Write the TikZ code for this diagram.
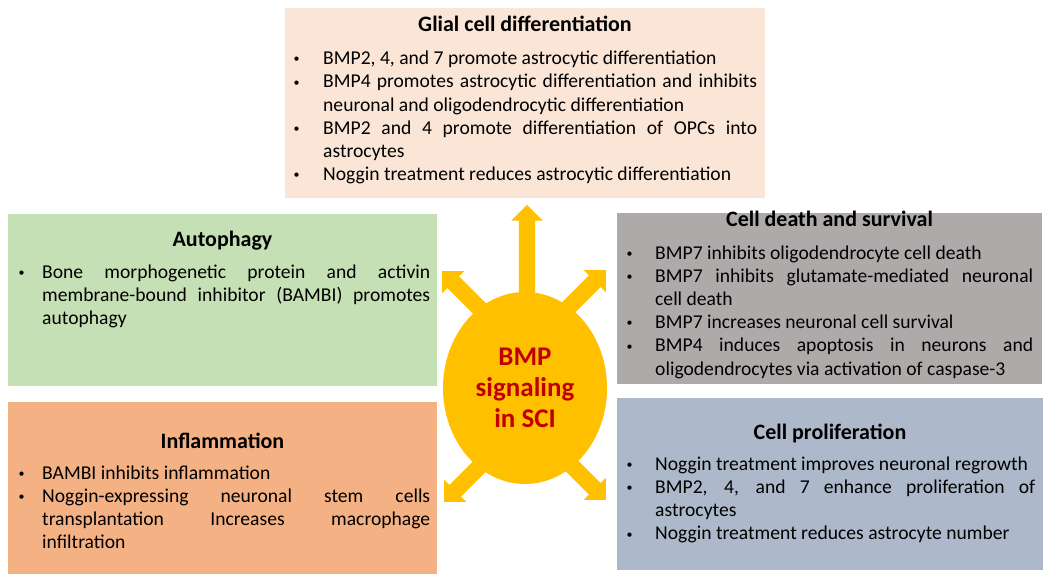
\documentclass[tikz,border=0pt]{standalone}
\usepackage{fontspec}
\setmainfont{Carlito}
\usetikzlibrary{shapes.geometric, shapes.arrows}

\definecolor{glialc}{HTML}{FBE5D6}
\definecolor{autoc}{HTML}{C5E0B4}
\definecolor{deathc}{HTML}{AEAAAA}
\definecolor{inflc}{HTML}{F4B183}
\definecolor{prolc}{HTML}{ADB9CA}
\definecolor{bmpy}{HTML}{FFC000}
\definecolor{bmpr}{HTML}{C00000}

\newlength{\bulind}
\newcommand{\bul}[1]{\par\noindent\hangindent=\bulind\hangafter=1\strut\makebox[\bulind][l]{\hspace{0.5pt}\raisebox{1.8pt}{\fontsize{12}{12}\selectfont\textbullet}}#1\par}
\hyphenpenalty=10000
\exhyphenpenalty=10000

\begin{document}
\begin{tikzpicture}[x=1pt, y=-1pt,
	box/.style = {rectangle, anchor=north west, inner sep=0, draw=none},
	ttl/.style = {anchor=base, inner sep=0, font=\bfseries\fontsize{22}{26}\selectfont},
	txt/.style = {anchor=north west, inner sep=0, align=justify, text width=#1, font=\fontsize{19.6}{23.2}\selectfont},
	bi/.style  = {execute at begin node={\setlength{\bulind}{#1}}},
	arw/.style = {single arrow, fill=bmpy, draw=none, inner sep=0, text height=16pt, text depth=0pt, minimum width=31, single arrow head extend=7.5, minimum height=#1}
	]
	\useasboundingbox (0,0) rectangle (1050,580);
	
	% ===== ===== ===== ===== =====
	
	% Boxes
	\node[box, fill=glialc, minimum width=480, minimum height=190]	(glial)	at	(285, 8)	{};
	\node[box, fill=autoc, minimum width=429, minimum height=172]	(auto)	at	(8, 214)	{};
	\node[box, fill=deathc, minimum width=425, minimum height=171]	(death)	at	(617, 213)	{};
	\node[box, fill=inflc, minimum width=429, minimum height=172]	(infl)	at	(8, 402)	{};
	\node[box, fill=prolc, minimum width=426, minimum height=172]	(prol)	at	(617, 398)	{};
	
	% ===== ===== ===== ===== =====
	
	% Titles
	\node[ttl]	(glialt)	at	(525, 32)		{Glial cell differentiation};
	\node[ttl]	(autot)		at	(222.5, 247)	{Autophagy};
	\node[ttl]	(deatht)	at	(829.5, 227)	{Cell death and survival};
	\node[ttl]	(inflt)		at	(222.5, 448)	{Inflammation};
	\node[ttl]	(prolt)		at	(830, 439)		{Cell proliferation};
	
	% Items
	\node[txt=464, bi=30pt]	(glials)	at	(293, 41.3)	{%
		\bul{BMP2, 4, and 7 promote astrocytic differentiation}
		\bul{BMP4 promotes astrocytic differentiation and inhibits\linebreak neuronal and oligodendrocytic differentiation}
		\bul{BMP2 and 4 promote differentiation of OPCs into\linebreak astrocytes}
		\bul{Noggin treatment reduces astrocytic differentiation}};
	\node[txt=412, bi=24pt]	(autos)		at	(18, 254.8)	{%
		\bul{Bone morphogenetic protein and activin\linebreak membrane-bound inhibitor (BAMBI) promotes\linebreak autophagy}};
	\node[txt=407, bi=29pt]	(deaths)	at	(626, 235.8)	{%
		\bul{BMP7 inhibits oligodendrocyte cell death}
		\bul{BMP7 inhibits glutamate-mediated neuronal\linebreak cell death}
		\bul{BMP7 increases neuronal cell survival}
		\bul{BMP4 induces apoptosis in neurons and\linebreak oligodendrocytes via activation of caspase-3}};
	\node[txt=412, bi=24pt]	(infls)		at	(18, 455.8)	{%
		\bul{BAMBI inhibits inflammation}
		\bul{Noggin-expressing neuronal stem cells\linebreak transplantation Increases macrophage\linebreak infiltration}};
	\node[txt=409, bi=29pt]	(prols)		at	(626, 446.8)	{%
		\bul{Noggin treatment improves neuronal regrowth}
		\bul{BMP2, 4, and 7 enhance proliferation of\linebreak astrocytes}
		\bul{Noggin treatment reduces astrocyte number}};
	
	% ===== ===== ===== ===== =====
	
	% Arrows
	\node[arw=96, rotate=90]		(aup)	at	(527, 257)		{};
	\node[arw=63.6, rotate=135]		(aul)	at	(467.5, 296.5)	{};
	\node[arw=63.6, rotate=45]		(aur)	at	(580.5, 295.5)	{};
	\node[arw=63.6, rotate=225]		(adl)	at	(469.5, 476.5)	{};
	\node[arw=63.6, rotate=-45]		(adr)	at	(580.5, 474.5)	{};
	
	% Centre
	\node[ellipse, fill=bmpy, inner sep=0, minimum width=164, minimum height=192, align=center, text=bmpr, font=\bfseries\fontsize{27}{31}\selectfont]	(bmp)	at	(525, 388)	{BMP\\signaling\\in SCI};
	
\end{tikzpicture}
\end{document}
